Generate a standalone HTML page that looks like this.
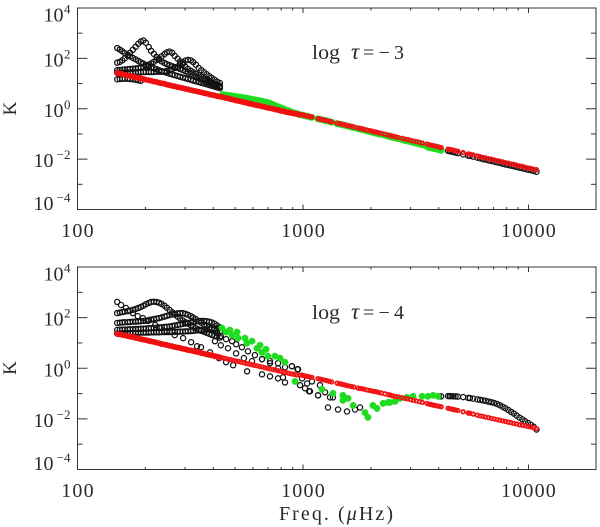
<!DOCTYPE html>
<html>
<head>
<meta charset="utf-8">
<title>K vs frequency</title>
<style>
html,body{margin:0;padding:0;background:#fff;}
svg{display:block;}
text{font-family:"Liberation Serif",serif;fill:#2b2b2b;}
</style>
</head>
<body>
<svg id="chart" width="600" height="527" viewBox="0 0 600 527" xmlns="http://www.w3.org/2000/svg">
  <text transform="translate(16,108.5) rotate(-90)" text-anchor="middle" font-size="19">K</text>
  <text transform="translate(16,368) rotate(-90)" text-anchor="middle" font-size="19">K</text>
  <g font-size="20">
    <text x="312" y="59" textLength="28" lengthAdjust="spacingAndGlyphs">log</text>
    <text x="351" y="59" font-size="23" font-style="italic">τ</text>
    <text x="363" y="59" textLength="41" lengthAdjust="spacing">=−3</text>
  </g>
  <g font-size="20">
    <text x="312" y="319" textLength="28" lengthAdjust="spacingAndGlyphs">log</text>
    <text x="351" y="319" font-size="23" font-style="italic">τ</text>
    <text x="363" y="319" textLength="41" lengthAdjust="spacing">=−4</text>
  </g>
  <text x="279" y="520" font-size="20" textLength="114" lengthAdjust="spacing">Freq. (<tspan font-style="italic">μ</tspan>Hz)</text>
</svg>
<script>
// Tick data
const xMajorTicks = [100, 1000, 10000];
const xMajorLabels = ["100", "1000", "10000"];
const xMinorTicks = [200,300,400,500,600,700,800,900,2000,3000,4000,5000,6000,7000,8000,9000];
const yMajorExponents = [4, 2, 0, -2, -4];
const yMajorLabels = ["4", "2", "0", "−2", "−4"];
const yMinorExponents = [3, 1, -1, -3];

// Frequencies (microHz)
const freqLow = [150,154,158,162,167,171,176,181,186,191,196,201,207,212,218,224,230,236,243,249,256,263,270,278,285,293,301,309,318,326,335,345,354,364,374,384,394,405,416,428];
const freqMid = [440,452,464,477,490,503,517,531,546,561,576,592,608,625,642,660,678,696,715,735,755,776,797,819,841,864,888,912,937,963];
const freqHigh = [990,1010,1030,1050,1075,1095,1165,1190,1215,1245,1275,1310,1340,1415,1450,1485,1520,1560,1600,1640,1680,1750,1790,1830,1870,1925,1980,2025,2075,2120,2170,2230,2310,2385,2440,2500,2570,2640,2750,2830,2910,3000,3090,3180,3280,3380,3550,3630,3720,3800,3900,4010,4100,4400,4480,4560,4650,4750,4860,5130,5400,5500,5680,5930,6100,6280,6460,6650,6840,7040,7250,7460,7680,7900,8130,8370,8610,8860,9120,9390,9660,9950,10240,10540,10850];

// Top panel (log tau = -3): log10 K
const topBlackA = [2.41,2.35,2.28,2.21,2.14,2.08,2.02,1.96,1.90,1.84,1.79,1.74,1.69,1.65,1.61,1.57,1.53,1.49,1.46,1.43,1.39,1.36,1.33,1.30,1.27,1.24,1.21,1.18,1.15,1.12,1.09,1.06,1.03,1.00,0.97,0.94,0.91,0.88,0.85,0.82];
const topBlackB = [1.83,1.86,1.92,2.00,2.10,2.22,2.34,2.46,2.58,2.67,2.71,2.62,2.45,2.30,2.18,2.06,1.95,1.88,1.82,1.77,1.73,1.69,1.65,1.62,1.58,1.54,1.49,1.44,1.39,1.33,1.27,1.21,1.16,1.11,1.06,1.02,0.98,0.94,0.90,0.87];
const topBlackC = [1.53,1.54,1.55,1.56,1.57,1.58,1.59,1.60,1.62,1.64,1.67,1.71,1.75,1.80,1.86,1.93,2.00,2.08,2.17,2.24,2.27,2.22,2.10,1.99,1.88,1.78,1.66,1.58,1.51,1.45,1.39,1.33,1.27,1.21,1.15,1.10,1.05,1.00,0.95,0.91];
const topBlackD = [1.43,1.43,1.44,1.44,1.44,1.44,1.45,1.45,1.45,1.45,1.46,1.46,1.46,1.46,1.46,1.47,1.47,1.47,1.48,1.50,1.53,1.57,1.62,1.68,1.76,1.84,1.91,1.94,1.92,1.85,1.75,1.62,1.53,1.45,1.37,1.29,1.22,1.15,1.08,1.02];
const topBlackE = [1.17,1.18,1.19,1.19,1.19,1.18,1.17,1.15,1.13,1.11];
const topBlackHigh = [-1.62,-1.63,-1.67,-1.69,-1.70,-1.72,-1.74,-1.76,-1.81,-1.86,-1.87,-1.90,-1.94,-1.97,-2.00,-2.02,-2.05,-2.07,-2.10,-2.13,-2.15,-2.18,-2.21,-2.23,-2.26,-2.28,-2.31,-2.34,-2.36,-2.39,-2.42,-2.44,-2.47,-2.50];
const topGreenMid = [0.56,0.55,0.53,0.52,0.50,0.49,0.47,0.46,0.44,0.42,0.40,0.38,0.36,0.34,0.32,0.30,0.27,0.25,0.21,0.17,0.12,0.08,0.04,0.00,-0.05,-0.08,-0.13,-0.16,-0.19,-0.23];
const topGreenHigh = [-0.25,-0.27,-0.29,-0.30,-0.33,-0.34,-0.40,-0.42,-0.44,-0.46,-0.48,-0.51,-0.53,-0.59,-0.61,-0.63,-0.65,-0.68,-0.70,-0.73,-0.75,-0.79,-0.81,-0.83,-0.85,-0.88,-0.91,-0.93,-0.96,-0.97,-1.00,-1.02,-1.05,-1.09,-1.11,-1.14,-1.16,-1.19,-1.23,-1.26,-1.28,-1.31,-1.34,-1.37,-1.40,-1.43,-1.51,-1.54,-1.56,-1.58,-1.60,-1.63,-1.65];
const topRedLow = [1.42,1.40,1.37,1.35,1.32,1.30,1.27,1.25,1.23,1.20,1.18,1.15,1.13,1.11,1.08,1.06,1.03,1.01,0.99,0.96,0.94,0.91,0.89,0.86,0.84,0.82,0.79,0.77,0.74,0.72,0.70,0.67,0.65,0.62,0.60,0.57,0.55,0.53,0.50,0.48];
const topRedMid = [0.46,0.43,0.41,0.38,0.36,0.33,0.31,0.29,0.26,0.24,0.21,0.19,0.16,0.14,0.12,0.09,0.07,0.04,0.02,0.00,-0.03,-0.05,-0.08,-0.10,-0.13,-0.15,-0.17,-0.19,-0.21,-0.23];
const topRedHigh = [-0.24,-0.26,-0.28,-0.29,-0.32,-0.33,-0.39,-0.41,-0.43,-0.45,-0.47,-0.50,-0.52,-0.57,-0.59,-0.61,-0.63,-0.66,-0.68,-0.70,-0.72,-0.76,-0.78,-0.80,-0.82,-0.85,-0.87,-0.89,-0.92,-0.93,-0.96,-0.98,-1.01,-1.04,-1.06,-1.09,-1.11,-1.14,-1.17,-1.20,-1.22,-1.25,-1.28,-1.30,-1.33,-1.36,-1.40,-1.43,-1.45,-1.47,-1.49,-1.52,-1.54,-1.60,-1.62,-1.63,-1.65,-1.67,-1.69,-1.74,-1.79,-1.80,-1.83,-1.87,-1.90,-1.93,-1.95,-1.98,-2.00,-2.03,-2.06,-2.08,-2.11,-2.14,-2.16,-2.19,-2.21,-2.24,-2.27,-2.29,-2.32,-2.35,-2.37,-2.40,-2.42];

// Bottom panel (log tau = -4): log10 K
const botBlackA = [2.18,2.20,2.22,2.24,2.26,2.28,2.31,2.34,2.38,2.42,2.47,2.53,2.58,2.62,2.63,2.62,2.59,2.54,2.47,2.39,2.30,2.21,2.12,2.04,1.96,1.89,1.82,1.76,1.70,1.64,1.58,1.53,1.48,1.44,1.40,1.36,1.32,1.28,1.25,1.21];
const botBlackB = [1.79,1.80,1.81,1.82,1.82,1.83,1.84,1.84,1.85,1.86,1.87,1.88,1.90,1.92,1.94,1.96,1.98,2.01,2.04,2.07,2.10,2.13,2.15,2.17,2.18,2.18,2.15,2.11,2.06,2.00,1.94,1.87,1.80,1.73,1.67,1.62,1.58,1.53,1.49,1.45];
const botBlackC = [1.51,1.52,1.52,1.53,1.53,1.54,1.54,1.55,1.55,1.56,1.56,1.57,1.58,1.58,1.59,1.60,1.61,1.62,1.63,1.64,1.65,1.67,1.69,1.71,1.73,1.75,1.77,1.79,1.81,1.83,1.85,1.86,1.87,1.87,1.86,1.84,1.81,1.76,1.69,1.62];
const botBlackD = [1.37,1.38,1.38,1.39,1.39,1.39,1.40,1.40,1.40,1.41,1.41,1.41,1.41,1.42,1.42,1.42,1.42,1.43,1.43,1.43,1.43,1.44,1.44,1.44,1.45,1.45,1.46,1.46,1.47,1.48,1.49,1.50,1.51,1.52,1.53,1.54,1.56,1.57,1.58,1.60];
const botBlackHigh = [-1.11,-1.11,-1.10,-1.10,-1.10,-1.11,-1.11,-1.12,-1.14,-1.17,-1.18,-1.20,-1.23,-1.25,-1.27,-1.29,-1.32,-1.34,-1.37,-1.41,-1.46,-1.52,-1.58,-1.65,-1.72,-1.79,-1.87,-1.95,-2.02,-2.09,-2.16,-2.23,-2.31,-2.42];
const botChainAFreq = [150,156,164,176,185,195,205,221,232,249,270,294,319,339,353,387,424,456,490,565,658,714,775,832,970,1064,1166,1291,1430,1567,1700,1790];
const botChainAK = [2.62,2.50,2.38,2.18,2.06,1.98,1.87,1.71,1.59,1.47,1.31,1.19,1.03,0.87,0.83,0.63,0.40,0.24,0.12,-0.12,-0.24,-0.32,-0.40,-0.56,-0.67,-0.91,-1.07,-1.55,-1.63,-1.71,-1.63,-1.55];
const botChainBFreq = [416,432,456,485,505,536,570,612,658,714,775,832,893,951,991,1043,1096,1021,1074,1189,1166,1253,1318,1358];
const botChainBK = [1.39,1.27,1.15,1.07,0.95,0.83,0.67,0.52,0.36,0.28,0.20,0.04,0.08,-0.04,-0.40,-0.60,-0.52,-0.79,-0.91,-0.67,-1.07,-0.95,-1.15,-1.15];
const botChainCFreq = [407,432,465,505,547,594,658,714,775,815,893,945];
const botChainCK = [1.07,0.91,0.79,0.59,0.40,0.28,0.36,0.20,0.00,-0.36,0.08,-0.04];
const botGreenFreq = [437,456,474,484,510,515,553,564,594,625,645,658,686,699,751,791,832,922,1213,1358,1503,1503,1584,1668,1884,1941,2042,2128,2265,2384,2432,2559,2692,2891,3076,3373,3581,3776,3972];
const botGreenK = [1.59,1.43,1.51,1.31,1.43,1.19,1.19,0.99,1.07,0.79,0.91,0.63,0.75,0.48,0.48,0.40,0.24,-0.52,-0.83,-0.99,-1.07,-1.27,-1.19,-1.47,-1.75,-1.94,-1.47,-1.59,-1.39,-1.35,-1.35,-1.31,-1.19,-1.15,-1.11,-1.11,-1.11,-1.07,-1.11];
const botRedLow = [1.36,1.34,1.32,1.30,1.27,1.25,1.23,1.20,1.18,1.15,1.13,1.11,1.08,1.06,1.04,1.01,0.99,0.96,0.94,0.92,0.89,0.87,0.84,0.82,0.80,0.77,0.75,0.72,0.70,0.68,0.65,0.63,0.60,0.58,0.55,0.53,0.51,0.48,0.46,0.43];
const botRedMid = [0.41,0.39,0.36,0.34,0.31,0.29,0.27,0.24,0.22,0.19,0.17,0.14,0.12,0.10,0.07,0.05,0.02,0.00,-0.03,-0.05,-0.07,-0.10,-0.12,-0.15,-0.17,-0.20,-0.22,-0.24,-0.26,-0.27];
const botRedHigh = [-0.27,-0.29,-0.31,-0.32,-0.35,-0.36,-0.41,-0.43,-0.45,-0.47,-0.49,-0.52,-0.54,-0.59,-0.61,-0.63,-0.65,-0.68,-0.70,-0.72,-0.74,-0.78,-0.80,-0.81,-0.83,-0.86,-0.88,-0.90,-0.92,-0.93,-0.96,-0.98,-1.01,-1.04,-1.06,-1.09,-1.11,-1.13,-1.16,-1.19,-1.21,-1.24,-1.27,-1.29,-1.32,-1.35,-1.39,-1.42,-1.44,-1.46,-1.48,-1.50,-1.52,-1.58,-1.60,-1.61,-1.63,-1.65,-1.67,-1.72,-1.77,-1.78,-1.81,-1.85,-1.88,-1.90,-1.93,-1.95,-1.98,-2.00,-2.03,-2.05,-2.08,-2.10,-2.13,-2.15,-2.18,-2.20,-2.23,-2.25,-2.27,-2.30,-2.32,-2.35,-2.38];

const NS = "http://www.w3.org/2000/svg";
const svg = document.getElementById("chart");
const AXIS_COLOR = "#333";
const plotLeft = 77.5, plotRight = 596;

function xScale(f) {
  const dec = (528.5 - plotLeft) / 2;
  return plotLeft + (Math.log10(f) - 2) * dec;
}
function makeYScale(top, bottom) {
  return function (logK) { return top + (4 - logK) * (bottom - top) / 8; };
}
function line(parent, x1, y1, x2, y2) {
  const el = document.createElementNS(NS, "line");
  el.setAttribute("x1", x1);
  el.setAttribute("y1", y1);
  el.setAttribute("x2", x2);
  el.setAttribute("y2", y2);
  el.setAttribute("stroke", AXIS_COLOR);
  el.setAttribute("stroke-width", "1");
  
  
  parent.appendChild(el);
}
function label(parent, x, y, str, size, anchor, spacing) {
  const el = document.createElementNS(NS, "text");
  el.setAttribute("x", x);
  el.setAttribute("y", y);
  el.setAttribute("font-size", size);
  el.setAttribute("text-anchor", anchor);
  el.setAttribute("letter-spacing", spacing);
  
  
  el.textContent = str;
  parent.appendChild(el);
}
function drawAxes(top, bottom, labelBaseline) {
  const y = makeYScale(top, bottom);
  const g = document.createElementNS(NS, "g");
  
  
  svg.appendChild(g);
  const frame = document.createElementNS(NS, "rect");
  frame.setAttribute("x", plotLeft);
  frame.setAttribute("y", top);
  frame.setAttribute("width", plotRight - plotLeft);
  frame.setAttribute("height", bottom - top);
  frame.setAttribute("fill", "none");
  frame.setAttribute("stroke", AXIS_COLOR);
  frame.setAttribute("stroke-width", "1");
  
  
  g.appendChild(frame);
  xMajorTicks.forEach(function (t, i) {
    const x = xScale(t);
    line(g, x, top, x, top + 5);
    line(g, x, bottom, x, bottom - 5);
    label(g, x + 0.5, labelBaseline, xMajorLabels[i], 20, "middle", 1.2);
  });
  xMinorTicks.forEach(function (t) {
    const x = xScale(t);
    line(g, x, top, x, top + 2.5);
    line(g, x, bottom, x, bottom - 2.5);
  });
  yMajorExponents.forEach(function (e, i) {
    const py = y(e);
    line(g, plotLeft, py, plotLeft + 10, py);
    line(g, plotRight, py, plotRight - 10, py);
    const offset = i === 0 ? 13.7 : (i === yMajorExponents.length - 1 ? 0.5 : 8);
    const neg = yMajorLabels[i].charAt(0) === "−";
    label(g, neg ? 53.5 : 63.5, py + offset, "10", 20, "end", 0);
    label(g, 70.5, py + offset - 8, yMajorLabels[i], 13, "end", 0);
  });
  yMinorExponents.forEach(function (e) {
    const py = y(e);
    line(g, plotLeft, py, plotLeft + 5, py);
    line(g, plotRight, py, plotRight - 5, py);
  });
  return y;
}
function drawSeries(name, y, freqs, vals, style) {
  const g = document.createElementNS(NS, "g");
  
  
  svg.appendChild(g);
  const n = Math.min(freqs.length, vals.length);
  for (let i = 0; i < n; i++) {
    const c = document.createElementNS(NS, "circle");
    c.setAttribute("cx", xScale(freqs[i]).toFixed(2));
    c.setAttribute("cy", y(vals[i]).toFixed(2));
    c.setAttribute("r", style.r);
    c.setAttribute("fill", style.fill);
    c.setAttribute("stroke", style.stroke);
    c.setAttribute("stroke-width", style.sw);
    
    
    g.appendChild(c);
  }
}
const blackStyle = { r: 2.6, fill: "none", stroke: "#111", sw: 1.25 };
const greenStyle = { r: 3.2, fill: "#1fdc1f", stroke: "#1fdc1f", sw: 0.5 };
const redBandStyle = { r: 2.0, fill: "#f01010", stroke: "#f01010", sw: 2 };
const redStyle = { r: 1.8, fill: "none", stroke: "#f01414", sw: 1.7 };

const yTop = drawAxes(8, 209.5, 237);
const yBot = drawAxes(267, 469.5, 497);

drawSeries("top-black-ridge-a", yTop, freqLow, topBlackA, blackStyle);
drawSeries("top-black-ridge-b", yTop, freqLow, topBlackB, blackStyle);
drawSeries("top-black-ridge-c", yTop, freqLow, topBlackC, blackStyle);
drawSeries("top-black-ridge-d", yTop, freqLow, topBlackD, blackStyle);
drawSeries("top-black-ridge-e", yTop, freqLow, topBlackE, blackStyle);
drawSeries("top-black-high-frequency", yTop, freqHigh.slice(51), topBlackHigh, blackStyle);
drawSeries("top-green-mid-frequency", yTop, freqMid, topGreenMid, greenStyle);
drawSeries("top-green-high-frequency", yTop, freqHigh, topGreenHigh, greenStyle);
drawSeries("top-red-low-frequency", yTop, freqLow, topRedLow, redBandStyle);
drawSeries("top-red-mid-frequency", yTop, freqMid, topRedMid, redBandStyle);
drawSeries("top-red-high-frequency", yTop, freqHigh, topRedHigh, redStyle);

drawSeries("bottom-black-ridge-a", yBot, freqLow, botBlackA, blackStyle);
drawSeries("bottom-black-ridge-b", yBot, freqLow, botBlackB, blackStyle);
drawSeries("bottom-black-ridge-c", yBot, freqLow, botBlackC, blackStyle);
drawSeries("bottom-black-ridge-d", yBot, freqLow, botBlackD, blackStyle);
drawSeries("bottom-black-chain-a", yBot, botChainAFreq, botChainAK, blackStyle);
drawSeries("bottom-black-chain-b", yBot, botChainBFreq, botChainBK, blackStyle);
drawSeries("bottom-black-chain-c", yBot, botChainCFreq, botChainCK, blackStyle);
drawSeries("bottom-black-high-frequency", yBot, freqHigh.slice(51), botBlackHigh, blackStyle);
drawSeries("bottom-green-points", yBot, botGreenFreq, botGreenK, greenStyle);
drawSeries("bottom-red-low-frequency", yBot, freqLow, botRedLow, redBandStyle);
drawSeries("bottom-red-mid-frequency", yBot, freqMid, botRedMid, redStyle);
drawSeries("bottom-red-high-frequency", yBot, freqHigh, botRedHigh, redStyle);
</script>
</body>
</html>
